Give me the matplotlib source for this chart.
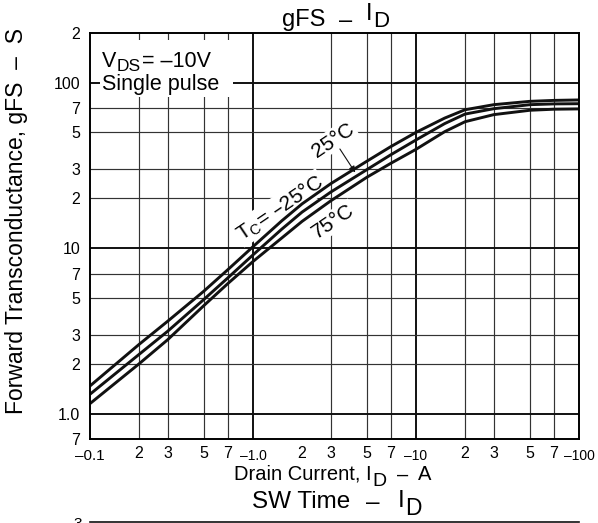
import matplotlib
matplotlib.use("Agg")
import matplotlib.pyplot as plt
from matplotlib.ticker import FixedLocator, FixedFormatter
from matplotlib.patches import Rectangle
from matplotlib.lines import Line2D

plt.rcParams['font.family'] = ['Liberation Sans', 'DejaVu Sans']
plt.rcParams['mathtext.default'] = 'regular'

# drain current |ID| (A) and gFS (S)
i_d = [0.1, 0.2, 0.3, 0.5, 0.7, 1.0, 1.5, 2, 3, 5, 7, 10, 15, 20, 30, 50, 70, 100]
gfs_m25 = [1.47, 2.62, 3.62, 5.5, 7.4, 10.2, 14.6, 18.5, 24.5, 33.5, 41, 50, 61, 68.5, 73.5, 77, 78, 78.5]
gfs_25 = [1.31, 2.28, 3.15, 4.9, 6.6, 9.1, 13.0, 16.5, 21.8, 29.8, 36.6, 45, 56.5, 64.5, 69.5, 73.5, 74.3, 74.5]
gfs_75 = [1.15, 2.0, 2.8, 4.5, 6.1, 8.3, 11.5, 14.5, 19.3, 26.8, 32.5, 39.5, 50.5, 58, 64, 68, 69, 69.3]

# ticks
x_major = [0.1, 1, 10, 100]
x_major_lbl = ['\u20130.1', '\u20131.0', '\u201310', '\u2013100']
x_minor = [0.2, 0.3, 0.5, 0.7, 2, 3, 5, 7, 20, 30, 50, 70]
x_minor_lbl = ['2', '3', '5', '7'] * 3
y_major = [1, 10, 100]
y_major_lbl = ['1.0', '10', '100']
y_minor = [0.7, 2, 3, 5, 7, 20, 30, 50, 70, 200]
y_minor_lbl = ['7', '2', '3', '5', '7', '2', '3', '5', '7', '2']

# grid lines (the sheet has no line at 2 A)
xgrid_minor = [0.2, 0.3, 0.5, 0.7, 3, 5, 7, 20, 30, 50, 70]
xgrid_major = [1, 10]
ygrid_minor = [2, 3, 5, 7, 20, 30, 50, 70]
ygrid_major = [1, 10, 100]

W, H = 598, 523
fig = plt.figure(figsize=(W / 100, H / 100), dpi=100)
ax_l, ax_r, ax_t, ax_b = 90, 579, 32.7, 439.3
ax = fig.add_axes([ax_l / W, 1 - ax_b / H, (ax_r - ax_l) / W, (ax_b - ax_t) / H])
ax.set_xscale('log')
ax.set_yscale('log')
ax.set_xlim(0.1, 100)
ax.set_ylim(0.7, 200)

for v in xgrid_minor:
    ax.axvline(v, color='#333333', lw=0.85, zorder=1)
for v in xgrid_major:
    ax.axvline(v, color='#111111', lw=1.4, zorder=1)
for v in ygrid_minor:
    ax.axhline(v, color='#333333', lw=0.85, zorder=1)
for v in ygrid_major:
    ax.axhline(v, color='#111111', lw=1.4, zorder=1)


def chain(x_px, parts, ha='center'):
    # put text pieces side by side; parts = (text, size, baseline px, gap after px)
    r = fig.canvas.get_renderer()
    ts = []
    for s, fs, yb, gap in parts:
        t = fig.text(0, 1 - yb / H, s, fontsize=fs, va='baseline', ha='left', zorder=4)
        ts.append((t, t.get_window_extent(r).width, gap))
    total = sum(w + g for _, w, g in ts) - ts[-1][2]
    x = x_px - total / 2 if ha == 'center' else x_px
    for t, w, g in ts:
        t.set_x(x / W)
        x += w + g


# white patch behind the condition text
ax.add_patch(Rectangle((10 / 489, (ax_b - 97) / 406.6), 133 / 489, 57 / 406.6,
                       transform=ax.transAxes, facecolor='white', edgecolor='none', zorder=2))
chain(102, [('V', 15.5, 67, 0), ('DS', 12.5, 71, 1), ('= \u201310V', 15.5, 67, 0)], ha='left')
chain(102, [('Single pulse', 15.5, 90, 0)], ha='left')

for g in [gfs_m25, gfs_25, gfs_75]:
    ax.plot(i_d, g, color='#111111', lw=2.1, zorder=3, solid_capstyle='butt')

box = dict(facecolor='white', edgecolor='none', pad=1)
ax.text(1.464, 17.5, 'T$_{C}$= \u201325\u00b0C', rotation=34, rotation_mode='anchor',
        ha='center', va='center', fontsize=15, bbox=box, zorder=2.5)
ax.text(3.11, 45, '25\u00b0C', rotation=34, rotation_mode='anchor',
        ha='center', va='center', fontsize=15, bbox=box, zorder=2.5)
ax.text(3.11, 14.5, '75\u00b0C', rotation=34, rotation_mode='anchor',
        ha='center', va='center', fontsize=15, bbox=box, zorder=2.5)
ax.annotate('', xy=(4.33, 27.7), xytext=(3.34, 41),
            arrowprops=dict(arrowstyle='-|>', color='#111111', lw=0.8, mutation_scale=9),
            zorder=4)

ax.xaxis.set_major_locator(FixedLocator(x_major))
ax.xaxis.set_major_formatter(FixedFormatter(x_major_lbl))
ax.xaxis.set_minor_locator(FixedLocator(x_minor))
ax.xaxis.set_minor_formatter(FixedFormatter(x_minor_lbl))
ax.yaxis.set_major_locator(FixedLocator(y_major))
ax.yaxis.set_major_formatter(FixedFormatter(y_major_lbl))
ax.yaxis.set_minor_locator(FixedLocator(y_minor))
ax.yaxis.set_minor_formatter(FixedFormatter(y_minor_lbl))
ax.tick_params(which='both', length=0, labelsize=11.5)
ax.tick_params(axis='x', which='minor', pad=5)
ax.tick_params(axis='x', which='major', pad=7, labelsize=10)
ax.tick_params(axis='y', which='both', pad=7)
ax.get_xticklabels()[0].set_fontsize(11)

for s in ax.spines.values():
    s.set_linewidth(1.4)
    s.set_zorder(5)

# title, axis labels
chain(336, [('gFS', 17, 26, 13), ('\u2013', 17, 27, 14), ('I', 17, 20, 1), ('D', 16, 27, 0)])
chain(332.5, [('Drain Current, I', 14.5, 480, 1), ('D', 14, 486, 10),
              ('\u2013', 14.5, 481, 10), ('A', 14.5, 480, 0)])
fig.text(17 / W, 1 - 221 / H, 'Forward Transconductance, gFS  \u2013  S', rotation=90,
         ha='center', va='center', fontsize=16.5)

# top of the next chart on the sheet
chain(337, [('SW Time', 17.5, 508, 16), ('\u2013', 17.5, 509, 18), ('I', 17.5, 507, 1),
            ('D', 16.5, 515, 0)])
fig.add_artist(Line2D([ax_l / W, ax_r / W], [1 - 521.7 / H] * 2, color='#111111', lw=1.2,
                      transform=fig.transFigure))
fig.text(82 / W, 1 - 517 / H, '3', ha='right', va='top', fontsize=11)

fig.savefig('out.png', dpi=100)
